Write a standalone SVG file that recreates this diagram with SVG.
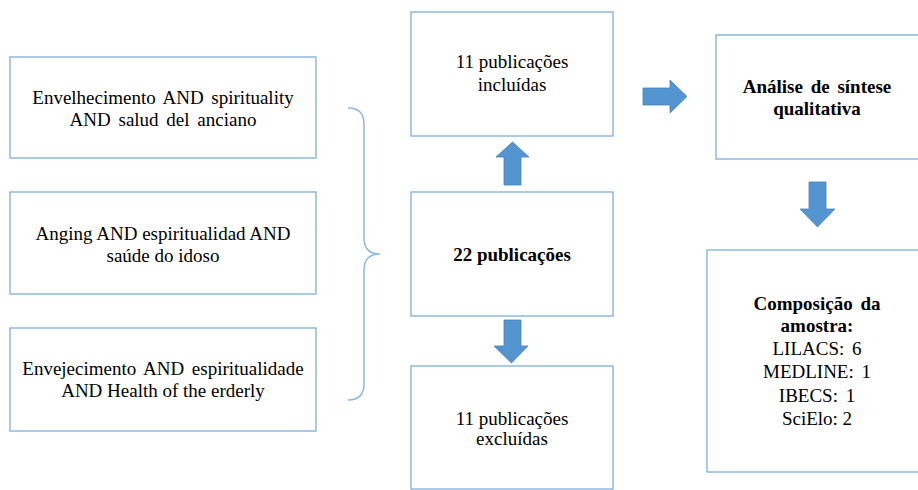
<svg xmlns="http://www.w3.org/2000/svg" width="918" height="490" viewBox="0 0 918 490">
<style>
.box{fill:#fff;stroke:#7eaddc;stroke-width:1.3}
.t{font-family:"Liberation Serif","Times New Roman",serif;font-size:19px;fill:#000;text-anchor:middle}
.b{font-weight:bold}
.arrow{fill:#5395d1;stroke:#4a80b5;stroke-width:0.8}
.brace{fill:none;stroke:#8db9e4;stroke-width:1.5}
</style>
<rect width="918" height="490" fill="#fff"/>
<g id="q1"><rect class="box" x="10" y="57" width="306" height="101"/>
<text class="t" x="163" y="104" word-spacing="3">Envelhecimento AND spirituality</text>
<text class="t" x="163" y="126" word-spacing="3">AND salud del anciano</text></g>
<g id="q2"><rect class="box" x="10" y="192" width="306" height="102"/>
<text class="t" x="163" y="240">Anging AND espiritualidad AND</text>
<text class="t" x="163" y="262">saúde do idoso</text></g>
<g id="q3"><rect class="box" x="10" y="328" width="306" height="103"/>
<text class="t" x="163" y="375" word-spacing="3">Envejecimento AND espiritualidade</text>
<text class="t" x="163" y="397">AND Health of the erderly</text></g>
<g id="inc"><rect class="box" x="411" y="12" width="202" height="124"/>
<text class="t" x="512" y="68">11 publicações</text>
<text class="t" x="512" y="91">incluídas</text></g>
<g id="total"><rect class="box" x="411" y="192" width="202" height="124"/>
<text class="t b" x="512" y="261">22 publicações</text></g>
<g id="exc"><rect class="box" x="411" y="366" width="202" height="123"/>
<text class="t" x="512" y="425">11 publicações</text>
<text class="t" x="512" y="445">excluídas</text></g>
<g id="analise"><rect class="box" x="716" y="35" width="210" height="124"/>
<text class="t b" x="817" y="93" word-spacing="3">Análise de síntese</text>
<text class="t b" x="817" y="115">qualitativa</text></g>
<g id="amostra"><rect class="box" x="707" y="250" width="220" height="222"/>
<text class="t b" x="817" y="310" word-spacing="3">Composição da</text>
<text class="t b" x="817" y="332">amostra:</text>
<text class="t" x="817" y="355" word-spacing="3">LILACS: 6</text>
<text class="t" x="817" y="378" word-spacing="3">MEDLINE: 1</text>
<text class="t" x="817" y="402" word-spacing="3">IBECS: 1</text>
<text class="t" x="817" y="425">SciElo: 2</text></g>
<g id="connectors">
<path class="brace" d="M348,108 Q364,108 364,124 L364,238 Q364,254 380,254 Q364,254 364,270 L364,384 Q364,400 348,400"/>
<polygon class="arrow" points="504,185 504,157 496,157 512.5,142 529,157 521,157 521,185"/>
<polygon class="arrow" points="504,320 521,320 521,346 528,346 511.5,363 494,346 504,346"/>
<polygon class="arrow" points="643,88 670,88 670,80 687,96.5 670,113 670,105 643,105"/>
<polygon class="arrow" points="809,182 826,182 826,209 835,209 817.5,227 800,209 809,209"/>
</g>
</svg>
